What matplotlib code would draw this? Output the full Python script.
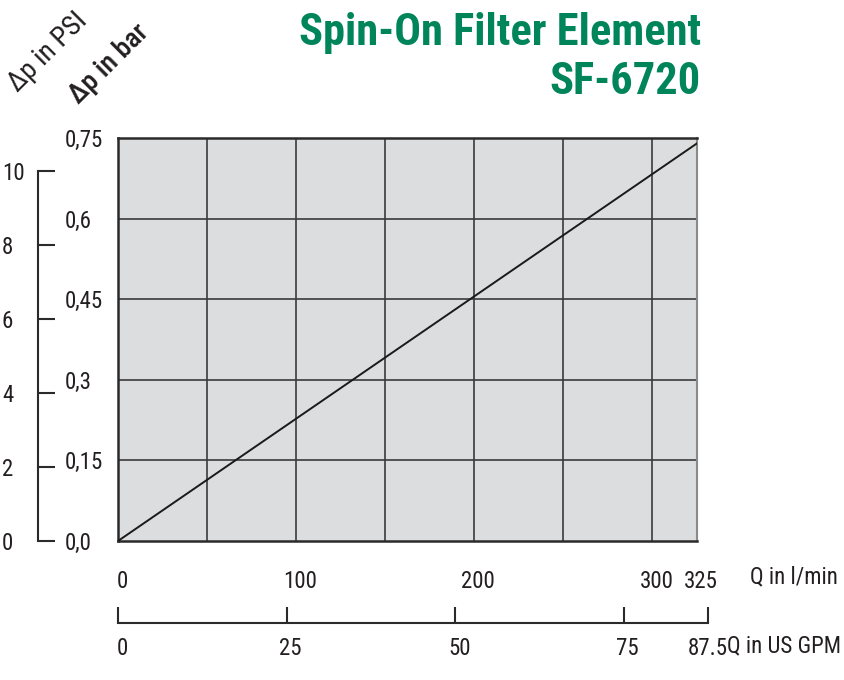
import matplotlib
matplotlib.use("Agg")
import matplotlib.pyplot as plt
from matplotlib.transforms import ScaledTranslation

# ---- data ----
flow_lpm = [0, 325]
dp_bar = [0, 0.74]
lpm_ticks = [0, 100, 200, 300, 325]
lpm_grid = [0, 50, 100, 150, 200, 250, 300, 325]
bar_ticks = [0, 0.15, 0.30, 0.45, 0.60, 0.75]
bar_labels = ["0,0", "0,15", "0,3", "0,45", "0,6", "0,75"]
psi_ticks = [0, 2, 4, 6, 8, 10]
gpm_ticks = [0, 25, 50, 75, 87.5]
gpm_labels = ["0", "25", "50", "75", "87.5"]
title1 = "Spin-On Filter Element"
title2 = "SF-6720"

plt.rcParams['font.family'] = ["Roboto Condensed", "DejaVu Sans"]

W, H = 845, 680
fig = plt.figure(figsize=(W / 100, H / 100), dpi=100)
TXT = "#231f20"
GREEN = "#00845a"
FS = 16.5

def fx(px):
    return px / W

def fy(py):
    return 1 - py / H

shift = ScaledTranslation(4 / 100, 0, fig.dpi_scale_trans)

# main plot
L, R, T, B = 118, 697, 138, 541
ax = fig.add_axes([fx(L), fy(B), fx(R - L), (B - T) / H])
ax.set_facecolor("#dcddde")
ax.set_xlim(0, 325)
ax.set_ylim(0, 0.75)
for x in lpm_grid[1:-1]:
    ax.axvline(x, color="#3a3a3a", lw=1.2, zorder=1)
for y in bar_ticks[1:-1]:
    ax.axhline(y, color="#3a3a3a", lw=1.2, zorder=1)
ax.plot(flow_lpm, dp_bar, color="#1a1a1a", lw=1.4, zorder=3)
for s in ["left", "top", "bottom"]:
    ax.spines[s].set_color("#2a2a2a")
    ax.spines[s].set_linewidth(1.8)
ax.spines["right"].set_color("#8a8a8a")
ax.spines["right"].set_linewidth(1.5)
ax.set_yticks(bar_ticks)
ax.set_yticklabels(bar_labels)
ax.set_xticks(lpm_ticks)
ax.set_xticklabels([str(v) for v in lpm_ticks])
ax.tick_params(axis="y", length=0, pad=53 * 0.72, labelsize=FS, labelcolor=TXT)
for lab in ax.get_yticklabels():
    lab.set_horizontalalignment("left")
ax.tick_params(axis="x", length=0, pad=29 * 0.72, labelsize=FS, labelcolor=TXT)
for lab in ax.get_xticklabels():
    lab.set_transform(lab.get_transform() + shift)

# PSI axis
PT = 171
ax2 = fig.add_axes([fx(38), fy(B), 0.01, (B - PT) / H])
ax2.set_ylim(0, 10)
ax2.set_xlim(0, 1)
ax2.patch.set_visible(False)
for s in ["right", "top", "bottom"]:
    ax2.spines[s].set_visible(False)
ax2.spines["left"].set_color("#2a2a2a")
ax2.spines["left"].set_linewidth(1.5)
ax2.set_xticks([])
ax2.set_yticks(psi_ticks)
ax2.set_yticklabels([str(v) for v in psi_ticks])
ax2.tick_params(axis="y", direction="in", length=17 * 0.72, width=1.5,
                color="#2a2a2a", pad=36 * 0.72, labelsize=FS, labelcolor=TXT)
for lab in ax2.get_yticklabels():
    lab.set_horizontalalignment("left")

# GPM axis
GB = 623
ax3 = fig.add_axes([fx(118), fy(GB), fx(708 - 118), 20 / H])
ax3.set_xlim(0, 87.5)
ax3.patch.set_visible(False)
for s in ["right", "top", "left"]:
    ax3.spines[s].set_visible(False)
ax3.spines["bottom"].set_color("#2a2a2a")
ax3.spines["bottom"].set_linewidth(1.5)
ax3.set_yticks([])
ax3.set_xticks(gpm_ticks)
ax3.set_xticklabels(gpm_labels)
ax3.tick_params(axis="x", direction="in", length=16 * 0.72, width=1.5,
                color="#2a2a2a", pad=14 * 0.72, labelsize=FS, labelcolor=TXT)
for lab in ax3.get_xticklabels()[:-1]:
    lab.set_transform(lab.get_transform() + shift)

# axis titles
fig.text(fx(750), fy(577), "Q in l/min", ha="left", va="center", fontsize=FS, color=TXT)
fig.text(fx(727), fy(646), "Q in US GPM", ha="left", va="center", fontsize=FS, color=TXT)
fig.text(fx(48), fy(52), "Δp in PSI", ha="center", va="center", rotation=45,
         fontsize=20, color=TXT, rotation_mode="anchor")
fig.text(fx(109), fy(64), "Δp in bar", ha="center", va="center", rotation=45,
         fontsize=20, color=TXT, fontweight="medium", rotation_mode="anchor")

# title
fig.text(fx(701), fy(45), title1, ha="right", va="baseline", fontsize=32,
         color=GREEN, fontweight="bold")
fig.text(fx(701), fy(94), title2, ha="right", va="baseline", fontsize=32,
         color=GREEN, fontweight="bold")

fig.savefig("out.png", dpi=100)
